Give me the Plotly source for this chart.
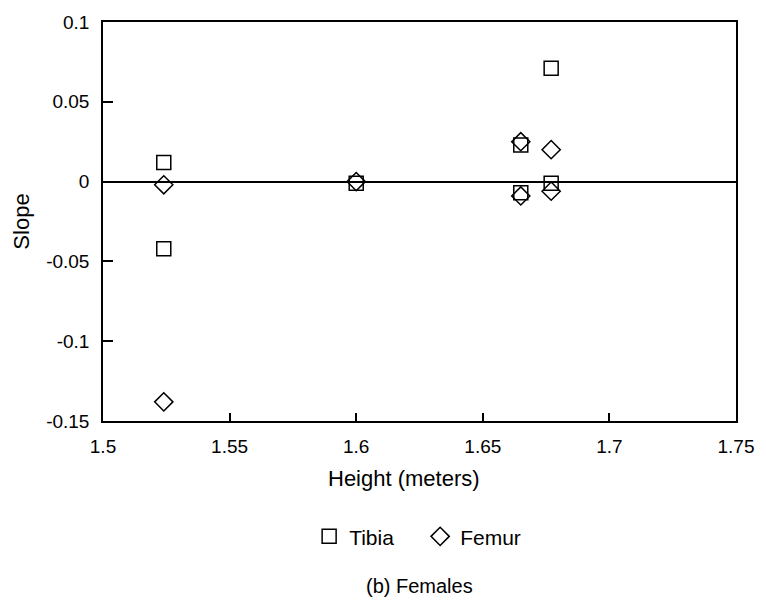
import plotly.graph_objects as go

# Slope of bone-length regression vs. subject height (female subjects)
tibia_height = [1.524, 1.524, 1.600, 1.665, 1.665, 1.677, 1.677]
tibia_slope = [0.012, -0.042, -0.001, 0.023, -0.007, 0.071, -0.001]

femur_height = [1.524, 1.524, 1.600, 1.665, 1.665, 1.677, 1.677]
femur_slope = [-0.002, -0.138, 0.000, 0.025, -0.009, 0.020, -0.006]

x_ticks = [1.5, 1.55, 1.6, 1.65, 1.7, 1.75]
x_tick_text = ["1.5", "1.55", "1.6", "1.65", "1.7", "1.75"]
y_ticks = [0.1, 0.05, 0, -0.05, -0.1, -0.15]
y_tick_text = ["0.1", "0.05", "0", "-0.05", "-0.1", "-0.15"]

font_family = "Liberation Sans, Arial, sans-serif"

fig = go.Figure()
fig.add_trace(go.Scatter(
    x=tibia_height, y=tibia_slope, mode="markers", name="Tibia",
    marker=dict(symbol="square-open", size=14, color="black", line=dict(width=1.5)),
))
fig.add_trace(go.Scatter(
    x=femur_height, y=femur_slope, mode="markers", name="Femur",
    marker=dict(symbol="diamond-open", size=14, color="black", line=dict(width=1.5)),
))

axis_common = dict(
    showline=True, linecolor="black", linewidth=1.5, mirror=True,
    showgrid=False, ticks="inside", tickcolor="black", tickwidth=1.5,
    tickfont=dict(size=19, color="black", family=font_family),
)

fig.update_layout(
    width=766, height=607,
    margin=dict(l=103, r=26, t=16, b=186),
    plot_bgcolor="white", paper_bgcolor="white",
    font=dict(family=font_family, color="black"),
    xaxis=dict(
        range=[1.5, 1.75], tickvals=x_ticks, ticktext=x_tick_text, ticklen=8,
        zeroline=False, ticklabelstandoff=7,
        **axis_common,
    ),
    yaxis=dict(
        range=[-0.15, 0.1], tickvals=y_ticks, ticktext=y_tick_text, ticklen=10,
        zeroline=True, zerolinecolor="black", zerolinewidth=1.5,
        ticklabelstandoff=8,
        title=dict(text="Slope", font=dict(size=22), standoff=10),
        **axis_common,
    ),
    legend=dict(
        orientation="h", x=0.501, xanchor="center", y=-0.29, yanchor="middle",
        font=dict(size=21), itemwidth=30, bgcolor="rgba(0,0,0,0)",
        entrywidth=66, entrywidthmode="pixels",
    ),
    annotations=[
        dict(
            text="Height (meters)", xref="paper", yref="paper",
            x=(405.5 - 103) / 637, y=-(479 - 421) / 405,
            xanchor="center", yanchor="middle", showarrow=False,
            font=dict(size=22, color="black"),
        ),
        dict(
            text="(b) Females", xref="paper", yref="paper",
            x=(421 - 103) / 637, y=-(588 - 421) / 405,
            xanchor="center", yanchor="middle", showarrow=False,
            font=dict(size=20, color="black"),
        ),
    ],
)

fig.write_html("out.html")
